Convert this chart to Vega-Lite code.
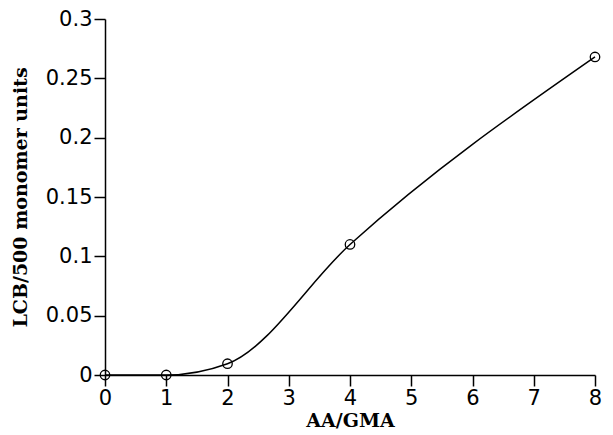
{
  "$schema": "https://vega.github.io/schema/vega-lite/v6.json",
  "autosize": {"type": "none"},
  "padding": {"left": 105, "top": 19, "right": 18, "bottom": 60},
  "width": 490,
  "height": 356,
  "background": "white",
  "config": {
    "view": {"stroke": null},
    "axis": {
      "grid": false,
      "domainColor": "black",
      "tickColor": "black",
      "domainWidth": 1.5,
      "tickWidth": 1.5,
      "tickSize": 11,
      "labelColor": "black",
      "labelFont": "DejaVu Sans",
      "labelFontSize": 21,
      "titleFont": "DejaVu Serif",
      "titleFontWeight": "bold",
      "titleFontSize": 19,
      "titleColor": "black"
    }
  },
  "data": {
    "values": [
      {"ratio": 0, "lcb": 0},
      {"ratio": 1, "lcb": 0},
      {"ratio": 2, "lcb": 0.0095},
      {"ratio": 4, "lcb": 0.11},
      {"ratio": 8, "lcb": 0.268}
    ]
  },
  "encoding": {
    "x": {
      "field": "ratio",
      "type": "quantitative",
      "scale": {"domain": [0, 8], "nice": false, "zero": false},
      "axis": {"title": "AA/GMA", "values": [0,1,2,3,4,5,6,7,8], "labelPadding": 1, "titlePadding": 3, "labelFlush": false}
    },
    "y": {
      "field": "lcb",
      "type": "quantitative",
      "scale": {"domain": [0, 0.3], "nice": false},
      "axis": {"title": "LCB/500 monomer units", "format": "~g", "values": [0, 0.05, 0.1, 0.15, 0.2, 0.25, 0.3], "labelPadding": 2, "titlePadding": 15, "labelFlush": false}
    }
  },
  "layer": [
    {"mark": {"type": "line", "interpolate": "monotone", "color": "black", "strokeWidth": 1.5}},
    {"mark": {"type": "point", "shape": "circle", "filled": false, "color": "black", "size": 90, "strokeWidth": 1.3, "opacity": 1}}
  ]
}
